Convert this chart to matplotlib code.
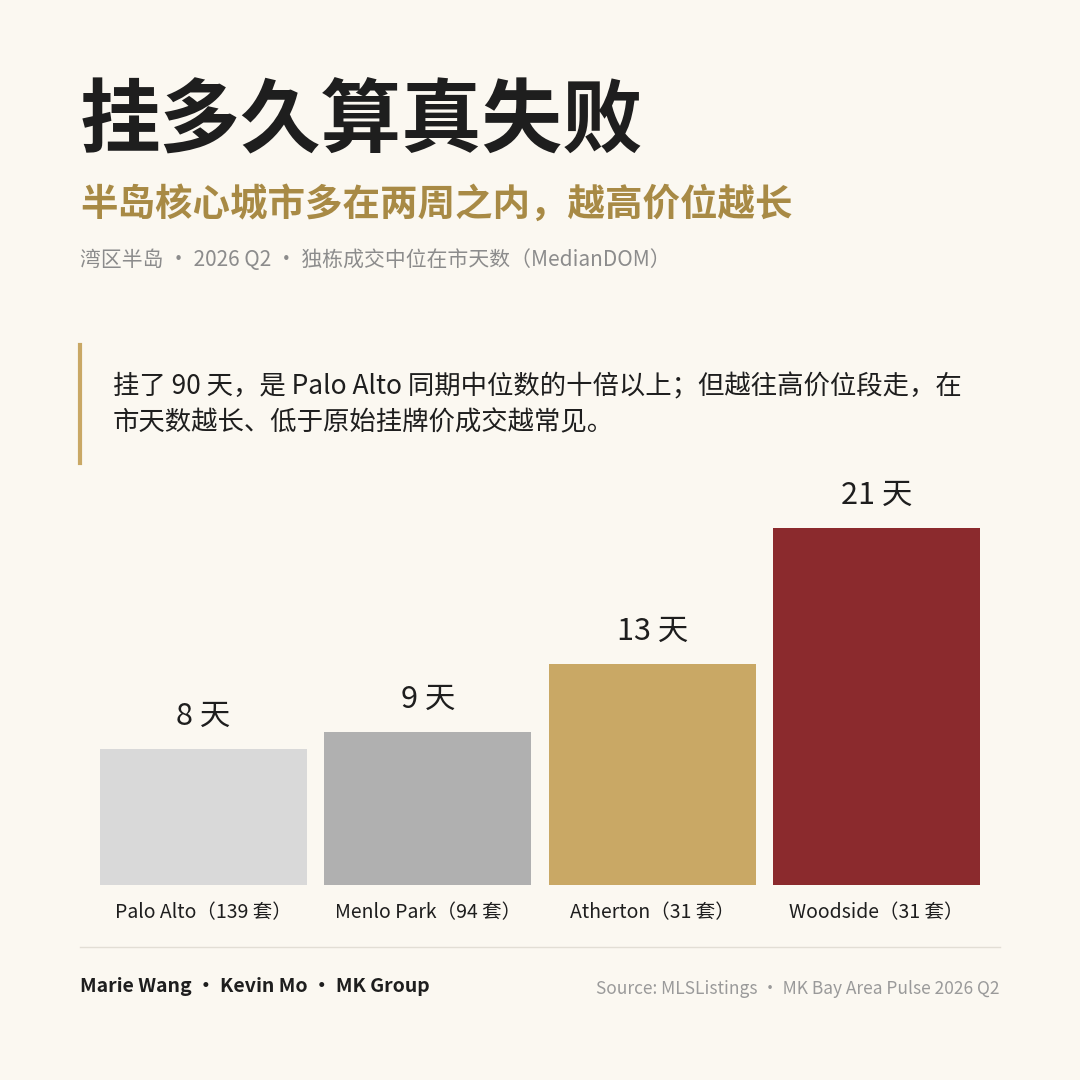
import matplotlib.pyplot as plt
from matplotlib.lines import Line2D

plt.rcParams['font.family'] = ['Noto Sans CJK SC', 'DejaVu Sans']

cities = ["Palo Alto", "Menlo Park", "Atherton", "Woodside"]
counts = [139, 94, 31, 31]
median_dom = [8, 9, 13, 21]
colors = ["#D9D9D9", "#B0B0B0", "#C9A865", "#8B2A2D"]

BG = "#FBF8F1"
W = H = 1080

fig = plt.figure(figsize=(10.8, 10.8), dpi=100, facecolor=BG)


def px(x, y):
    return x / W, 1 - y / H


def text(x, y, s, **kw):
    fig.text(*px(x, y), s, **kw)


text(80, 123, "挂多久算真失败", fontsize=58, fontweight="bold", color="#1E1E1E", va="center")
text(80, 204, "半岛核心城市多在两周之内，越高价位越长", fontsize=27, fontweight="bold",
     color="#A88A45", va="center")
text(80, 260, "湾区半岛 · 2026 Q2 · 独栋成交中位在市天数（MedianDOM）", fontsize=15,
     color="#8C8C8C", va="center")

fig.add_artist(Line2D([80 / W, 80 / W], [1 - 345 / H, 1 - 463 / H], color="#C9A865", lw=3))
text(113, 387, "挂了 90 天，是 Palo Alto 同期中位数的十倍以上；但越往高价位段走，在",
     fontsize=19, fontweight="medium", color="#1E1E1E", va="center")
text(113, 423, "市天数越长、低于原始挂牌价成交越常见。", fontsize=19, fontweight="medium",
     color="#1E1E1E", va="center")

ax = fig.add_axes([100 / W, 195 / H, 880 / W, 425 / H])
ax.set_facecolor(BG)
x = list(range(len(cities)))
ax.bar(x, median_dom, width=0.92, color=colors)
ax.set_xlim(-0.46, 3.46)
ax.set_ylim(0, 25)
ax.axis("off")
for i, v in enumerate(median_dom):
    ax.text(i, v + 1.0, f"{v} 天", ha="center", va="bottom", fontsize=22,
            fontweight="medium", color="#1E1E1E")
    ax.text(i, -1.6, f"{cities[i]}（{counts[i]} 套）", ha="center", va="center",
            fontsize=14, fontweight="medium", color="#1E1E1E")

fig.add_artist(Line2D([80 / W, 1000 / W], [1 - 947 / H] * 2, color="#E2DED5", lw=1))
text(80, 986, "Marie Wang · Kevin Mo · MK Group", fontsize=14, fontweight="bold",
     color="#1E1E1E", va="center")
text(1000, 989, "Source: MLSListings · MK Bay Area Pulse 2026 Q2", fontsize=12.5,
     color="#9A9A9A", va="center", ha="right")

fig.savefig("out.png", dpi=100, facecolor=BG)
